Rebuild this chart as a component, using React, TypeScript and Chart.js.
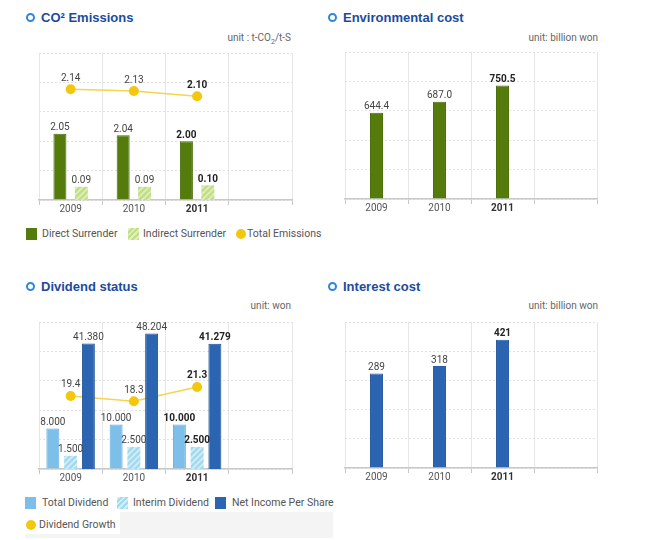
import React, { useEffect, useRef } from 'react';
import { Chart, registerables } from 'chart.js';
Chart.register(...registerables);

const FONT = "Roboto, 'Noto Sans', sans-serif";
const TITLE_FONT = "'Liberation Sans', Arial, sans-serif";

// ---------- data ----------
const years = ['2009', '2010', '2011', ''];

const directSurrender = [2.05, 2.04, 2.0];
const indirectSurrender = [0.09, 0.09, 0.1];
const totalEmissions = [2.14, 2.13, 2.1];

const environmentalCost = [644.4, 687.0, 750.5];

const totalDividend = [8000, 10000, 10000];
const interimDividend = [1500, 2500, 2500];
const netIncomePerShare = [41380, 48204, 41279];
const dividendGrowth = [19.4, 18.3, 21.3];

const interestCost = [289, 318, 421];

// ---------- colours ----------
const GREEN = '#557b0d';
const GREEN_BORDER = '#4b6f09';
const LIGHT_GREEN = '#c2de86';
const LIGHT_GREEN_STRIPE = '#e0efbb';
const YELLOW = '#f4c70f';
const YELLOW_LINE = '#f3d54e';
const LIGHT_BLUE = '#7ebfea';
const LIGHT_BLUE_BORDER = '#5aa8e2';
const CYAN = '#a5d9ef';
const CYAN_STRIPE = '#d2eff9';
const BLUE = '#2b65b1';
const BLUE_BORDER = '#1d4f98';

const fix = (d: number) => (v: number) => v.toFixed(d);
const dots = (v: number) => String(v).replace(/\B(?=(\d{3})+(?!\d))/g, '.');

function hatch(base: string, stripe: string) {
  const c = document.createElement('canvas');
  c.width = 6;
  c.height = 6;
  const g = c.getContext('2d')!;
  g.fillStyle = base;
  g.fillRect(0, 0, 6, 6);
  g.strokeStyle = stripe;
  g.lineWidth = 1.6;
  g.beginPath();
  g.moveTo(0, 6); g.lineTo(6, 0);
  g.moveTo(-3, 3); g.lineTo(3, -3);
  g.moveTo(3, 9); g.lineTo(9, 3);
  g.stroke();
  return g.createPattern(c, 'repeat')!;
}

const valueLabels = {
  id: 'valueLabels',
  afterDatasetsDraw(chart: any, _args: any, opts: any) {
    const ctx = chart.ctx;
    chart.data.datasets.forEach((ds: any, di: number) => {
      const meta = chart.getDatasetMeta(di);
      const fmt = opts.formats[di];
      const isLine = meta.type === 'line';
      meta.data.forEach((el: any, i: number) => {
        const v = ds.data[i];
        if (v == null) return;
        const bold = i === 2;
        ctx.save();
        ctx.font = `${bold ? 'bold ' : ''}10px ${FONT}`;
        ctx.fillStyle = bold ? '#222' : '#444';
        ctx.textAlign = 'center';
        ctx.textBaseline = 'bottom';
        ctx.fillText(fmt(v), el.x, el.y - (isLine ? 6 : 1));
        ctx.restore();
      });
    });
  },
};

function baseOptions(pad: any, yMin: number, yMax: number, extraScales: any, formats: any[]) {
  return {
    responsive: false,
    animation: false,
    layout: { padding: pad },
    plugins: {
      legend: { display: false },
      tooltip: { enabled: false },
      valueLabels: { formats },
    },
    scales: {
      x: {
        offset: true,
        grid: { offset: true, color: '#e6e6e6', lineWidth: 1, tickLength: 5, tickColor: '#c8c8c8' },
        border: { color: '#c8c8c8', width: 1.5 },
        ticks: {
          padding: -2,
          color: (c: any) => (c.index === 2 ? '#333' : '#555'),
          font: (c: any) => ({ family: FONT, size: 10, weight: c.index === 2 ? 'bold' : 'normal' }),
        },
      },
      y: {
        min: yMin,
        max: yMax,
        ticks: { display: false, count: 6 },
        grid: { color: '#e2e2e2', drawTicks: false },
        border: { display: false, dash: [2, 2] },
      },
      ...extraScales,
    },
  };
}

function ChartCanvas({ left, top, width, height, make }: any) {
  const ref = useRef<HTMLCanvasElement>(null);
  useEffect(() => {
    const chart = new Chart(ref.current!, make());
    return () => chart.destroy();
  }, []);
  return (
    <canvas
      ref={ref}
      width={width}
      height={height}
      style={{ position: 'absolute', left, top, width, height }}
    />
  );
}

// ---------- chart configs ----------
const CO2_Y = [1.6, 2.6];
const CO2_Y1 = [0, 1.0];
const CO2_Y2 = [1.5, 2.35];

function makeCO2(): any {
  return {
    type: 'bar',
    data: {
      labels: years,
      datasets: [
        {
          type: 'line', label: 'Total Emissions', data: totalEmissions, yAxisID: 'y2', order: 0,
          borderColor: YELLOW_LINE, borderWidth: 1.5, pointRadius: 5, pointBackgroundColor: YELLOW,
          pointBorderWidth: 0, pointBorderColor: YELLOW,
        },
        {
          type: 'bar', label: 'Direct Surrender', data: directSurrender, yAxisID: 'y', order: 1, base: CO2_Y[0],
          backgroundColor: GREEN, borderColor: GREEN_BORDER, borderWidth: 1,
          categoryPercentage: 0.677, barPercentage: 0.607,
        },
        {
          type: 'bar', label: 'Indirect Surrender', data: indirectSurrender, yAxisID: 'y1', order: 1, base: CO2_Y1[0],
          backgroundColor: hatch(LIGHT_GREEN, LIGHT_GREEN_STRIPE), borderWidth: 0,
          categoryPercentage: 0.677, barPercentage: 0.607,
        },
      ],
    },
    options: baseOptions(
      { left: 19, right: 18, top: 13, bottom: 7 },
      CO2_Y[0], CO2_Y[1],
      {
        y1: { display: false, min: CO2_Y1[0], max: CO2_Y1[1] },
        y2: { display: false, min: CO2_Y2[0], max: CO2_Y2[1] },
      },
      [fix(2), fix(2), fix(2)],
    ),
    plugins: [valueLabels],
  };
}

const ENV_Y = [310, 880];
function makeEnv(): any {
  return {
    type: 'bar',
    data: {
      labels: years,
      datasets: [
        {
          label: 'Environmental cost', data: environmentalCost, base: ENV_Y[0],
          backgroundColor: GREEN, borderColor: GREEN_BORDER, borderWidth: 1,
          categoryPercentage: 1, barPercentage: 0.206,
        },
      ],
    },
    options: baseOptions({ left: 19, right: 19, top: 12, bottom: 8 }, ENV_Y[0], ENV_Y[1], {}, [fix(1)]),
    plugins: [valueLabels],
  };
}

const DIV_Y = [-12000, 60500];
const DIV_Y1 = [0, 16700];
const DIV_Y2 = [-44000, 56000];
const DIV_Y3 = [4, 35];
function makeDiv(): any {
  return {
    type: 'bar',
    data: {
      labels: years,
      datasets: [
        {
          type: 'bar', label: 'Total Dividend', data: totalDividend, yAxisID: 'y', order: 1, base: DIV_Y[0],
          backgroundColor: LIGHT_BLUE, borderColor: LIGHT_BLUE_BORDER, borderWidth: 1,
          categoryPercentage: 0.842, barPercentage: 0.73,
        },
        {
          type: 'bar', label: 'Interim Dividend', data: interimDividend, yAxisID: 'y1', order: 1, base: DIV_Y1[0],
          backgroundColor: hatch(CYAN, CYAN_STRIPE), borderWidth: 0,
          categoryPercentage: 0.842, barPercentage: 0.73,
        },
        {
          type: 'bar', label: 'Net Income Per Share', data: netIncomePerShare, yAxisID: 'y2', order: 1, base: DIV_Y2[0],
          backgroundColor: BLUE, borderColor: BLUE_BORDER, borderWidth: 1,
          categoryPercentage: 0.842, barPercentage: 0.73,
        },
        {
          type: 'line', label: 'Dividend Growth', data: dividendGrowth, yAxisID: 'y3', order: 2,
          borderColor: YELLOW_LINE, borderWidth: 1.5, pointRadius: 5, pointBackgroundColor: YELLOW,
          pointBorderWidth: 0, pointBorderColor: YELLOW,
        },
      ],
    },
    options: baseOptions(
      { left: 19, right: 18, top: 17, bottom: 3 },
      DIV_Y[0], DIV_Y[1],
      {
        y1: { display: false, min: DIV_Y1[0], max: DIV_Y1[1] },
        y2: { display: false, min: DIV_Y2[0], max: DIV_Y2[1] },
        y3: { display: false, min: DIV_Y3[0], max: DIV_Y3[1] },
      },
      [dots, dots, dots, fix(1)],
    ),
    plugins: [valueLabels],
  };
}

const INT_Y = [-80, 490];
function makeInt(): any {
  return {
    type: 'bar',
    data: {
      labels: years,
      datasets: [
        {
          label: 'Interest cost', data: interestCost, base: INT_Y[0],
          backgroundColor: BLUE, borderColor: '#2a5ca5', borderWidth: 1,
          categoryPercentage: 1, barPercentage: 0.206,
        },
      ],
    },
    options: baseOptions({ left: 19, right: 19, top: 17, bottom: 4 }, INT_Y[0], INT_Y[1], {}, [String]),
    plugins: [valueLabels],
  };
}

// ---------- html pieces ----------
function Title({ x, y, text }: any) {
  return (
    <div style={{ position: 'absolute', left: x, top: y - 8, height: 16, display: 'flex', alignItems: 'center', whiteSpace: 'nowrap' }}>
      <span style={{ display: 'inline-block', width: 5, height: 5, border: '2.5px solid #2f86dc', borderRadius: '50%' }} />
      <span style={{ marginLeft: 6, font: `bold 13px ${TITLE_FONT}`, color: '#1c4b9d' }}>{text}</span>
    </div>
  );
}

function Unit({ right, y, children }: any) {
  return (
    <div style={{ position: 'absolute', right: 650 - right, top: y - 7, height: 14, lineHeight: '14px', font: `10px ${FONT}`, color: '#666', whiteSpace: 'nowrap' }}>
      {children}
    </div>
  );
}

function LegendItem({ x, tx, y, swatch, text }: any) {
  return (
    <>
      <span style={{ position: 'absolute', left: x, top: y - 6, width: 11, height: 12, ...swatch }} />
      <span style={{ position: 'absolute', left: tx, top: y - 7, height: 14, lineHeight: '14px', font: `10.5px ${FONT}`, color: '#555', whiteSpace: 'nowrap' }}>{text}</span>
    </>
  );
}

function LegendDot({ x, tx, y, text }: any) {
  return (
    <>
      <span style={{ position: 'absolute', left: x, top: y - 5, width: 10, height: 10, borderRadius: '50%', background: YELLOW }} />
      <span style={{ position: 'absolute', left: tx, top: y - 7, height: 14, lineHeight: '14px', font: `10.5px ${FONT}`, color: '#555', whiteSpace: 'nowrap' }}>{text}</span>
    </>
  );
}

const hatchCss = (base: string, stripe: string) => ({
  background: `repeating-linear-gradient(-45deg, ${base} 0px, ${base} 2px, ${stripe} 2px, ${stripe} 4px)`,
});

export default function App() {
  return (
    <div style={{ position: 'absolute', left: 0, top: 0, width: 650, height: 540, background: '#fff', fontFamily: FONT, overflow: 'hidden' }}>
      {/* CO2 */}
      <Title x={26} y={17} text="CO² Emissions" />
      <Unit right={291} y={39}>unit : t-CO<sub style={{ fontSize: 7 }}>2</sub>/t-S</Unit>
      <ChartCanvas left={20} top={40} width={290} height={180} make={makeCO2} />
      <LegendItem x={26} tx={42} y={234} swatch={{ background: GREEN }} text="Direct Surrender" />
      <LegendItem x={128} tx={143} y={234} swatch={hatchCss(LIGHT_GREEN, LIGHT_GREEN_STRIPE)} text="Indirect Surrender" />
      <LegendDot x={236} tx={247} y={234} text="Total Emissions" />

      {/* Environmental cost */}
      <Title x={328} y={17} text="Environmental cost" />
      <Unit right={598} y={39}>unit: billion won</Unit>
      <ChartCanvas left={326} top={40} width={290} height={180} make={makeEnv} />

      {/* Dividend */}
      <Title x={26} y={286} text="Dividend status" />
      <Unit right={291} y={307}>unit: won</Unit>
      <ChartCanvas left={20} top={305} width={290} height={180} make={makeDiv} />
      <LegendItem x={25} tx={42} y={503} swatch={{ background: LIGHT_BLUE }} text="Total Dividend" />
      <LegendItem x={117} tx={133} y={503} swatch={hatchCss(CYAN, CYAN_STRIPE)} text="Interim Dividend" />
      <LegendItem x={215} tx={232} y={503} swatch={{ background: BLUE }} text="Net Income Per Share" />
      <div style={{ position: 'absolute', left: 25, top: 512, width: 308, height: 26, background: '#f4f4f4' }} />
      <div style={{ position: 'absolute', left: 25, top: 512, width: 95, height: 22, background: '#fff' }} />
      <LegendDot x={26} tx={39} y={525} text="Dividend Growth" />

      {/* Interest cost */}
      <Title x={328} y={286} text="Interest cost" />
      <Unit right={598} y={307}>unit: billion won</Unit>
      <ChartCanvas left={326} top={305} width={290} height={180} make={makeInt} />
    </div>
  );
}
